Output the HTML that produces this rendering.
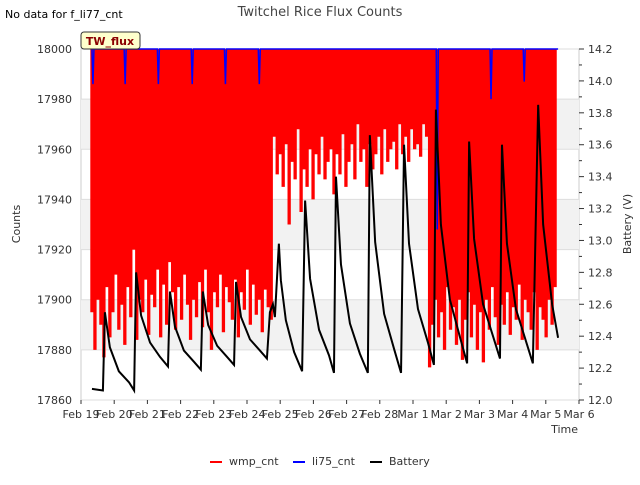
<!DOCTYPE html>
<html><head><meta charset="utf-8"><style>
body{margin:0;background:#fff;font-family:"Liberation Sans","DejaVu Sans",sans-serif}
svg text{font-family:"DejaVu Sans","Liberation Sans",sans-serif}
</style></head><body>
<svg id="c" width="640" height="480" xmlns="http://www.w3.org/2000/svg"></svg>
<script>
const xTicks=["Feb 19","Feb 20","Feb 21","Feb 22","Feb 23","Feb 24","Feb 25","Feb 26","Feb 27","Feb 28","Mar 1","Mar 2","Mar 3","Mar 4","Mar 5","Mar 6"];
const yTicks=[17860,17880,17900,17920,17940,17960,17980,18000];
const y2Ticks=[12.0,12.2,12.4,12.6,12.8,13.0,13.2,13.4,13.6,13.8,14.0,14.2];
const wmpStart=19.33, wmpStep=0.09;
const wmpLows=[17895,17880,17900,17890,17877,17905,17885,17895,17910,17888,17898,17882,17905,17893,17920,17884,17900,17895,17908,17886,17902,17897,17912,17885,17906,17890,17915,17903,17888,17905,17892,17910,17898,17884,17900,17893,17907,17889,17912,17895,17880,17903,17897,17910,17887,17905,17899,17892,17908,17885,17903,17896,17912,17890,17906,17894,17900,17887,17904,17897,17892,
17965,17950,17958,17945,17962,17930,17955,17948,17968,17935,17952,17945,17960,17940,17958,17950,17965,17948,17955,17960,17942,17958,17950,17966,17945,17955,17962,17948,17970,17955,17960,17945,17962,17952,17958,17965,17950,17968,17955,17960,17963,17952,17970,17958,17965,17955,17968,17960,17962,17957,17970,17965,
17873,17890,17900,17885,17895,17880,17905,17888,17897,17882,17900,17876,17892,17903,17885,17898,17880,17895,17875,17900,17888,17905,17893,17882,17898,17890,17903,17886,17897,17892,17906,17884,17900,17895,17888,17903,17880,17897,17892,17885,17900,17890,17905];
const liDipDays=[19.33,20.3,21.3,22.32,23.32,24.34,29.7,31.32,32.32];
const liDipVals=[17986,17986,17986,17986,17986,17986,17928,17980,17987];
const batT=[19.33,19.66,19.72,19.87,20.14,20.45,20.60,20.66,20.81,21.08,21.38,21.62,21.68,21.83,22.10,22.40,22.61,22.67,22.83,23.10,23.40,23.61,23.67,23.82,24.09,24.39,24.60,24.69,24.78,24.84,24.96,25.02,25.17,25.42,25.66,25.75,25.90,26.17,26.47,26.62,26.68,26.83,27.10,27.40,27.64,27.70,27.86,28.13,28.43,28.64,28.73,28.88,29.15,29.45,29.63,29.69,29.84,30.11,30.42,30.63,30.69,30.84,31.11,31.41,31.62,31.68,31.83,32.10,32.40,32.61,32.77,32.92,33.19,33.37];
const batV=[12.07,12.06,12.55,12.33,12.18,12.11,12.06,12.8,12.53,12.36,12.27,12.21,12.68,12.46,12.31,12.24,12.19,12.68,12.47,12.34,12.27,12.22,12.74,12.52,12.38,12.31,12.26,12.55,12.6,12.52,12.98,12.75,12.5,12.3,12.18,13.25,12.76,12.44,12.28,12.17,13.4,12.85,12.48,12.29,12.17,13.66,12.99,12.54,12.32,12.17,13.6,12.98,12.57,12.36,12.22,13.82,13.1,12.63,12.39,12.23,13.62,13.01,12.6,12.4,12.26,13.6,12.98,12.57,12.37,12.23,13.85,13.1,12.6,12.39];

const L=81,R=579,T=49,B=400;
const X=d=>L+(d-19)*(R-L)/15;
const Y=v=>B-(v-17860)*(B-T)/140;
const Y2=v=>B-(v-12)*(B-T)/2.2;
const svg=document.getElementById('c');const NS='http://www.w3.org/2000/svg';
function mk(tag,at,txt){const e=document.createElementNS(NS,tag);for(const k in at)e.setAttribute(k,at[k]);if(txt!==undefined)e.textContent=txt;svg.appendChild(e);return e;}
let e;
e=mk('rect',{x:L,y:T,width:R-L,height:B-T,fill:'#fff',stroke:'#ccc'});


[[17960,17980],[17920,17940],[17880,17900]].forEach(b=>{e=mk('rect',{x:L,y:Y(b[1]),width:R-L,height:Y(b[0])-Y(b[1]),fill:'#f2f2f2'});

});
yTicks.forEach(v=>{mk('line',{x1:L,x2:R,y1:Y(v),y2:Y(v),stroke:'#ddd'});
e=mk('text',{x:72,y:Y(v)+4,'text-anchor':'end','font-size':11,fill:'#333'},v);

});
xTicks.forEach((t,i)=>{mk('line',{x1:X(19+i),x2:X(19+i),y1:B,y2:B+4,stroke:'#333'});
e=mk('text',{x:X(19+i),y:B+18,'text-anchor':'middle','font-size':11,fill:'#333'},t);

});
for(let k=0;k<=22;k++){const v=12+k*0.1;mk('line',{x1:R,x2:R+(k%2?3:5),y1:Y2(v),y2:Y2(v),stroke:'#333'});}
y2Ticks.forEach(v=>{e=mk('text',{x:588,y:Y2(v)+4,'font-size':11,fill:'#333'},v.toFixed(1));

});
// wmp as vertical spikes
let p='';wmpLows.forEach((v,i)=>{const x=X(wmpStart+i*wmpStep);p+=`M${x},${Y(18000)} V${Y(v)} `;});
e=mk('path',{d:p,fill:'none',stroke:'#ff0000','stroke-width':3.3});


// li75
p=`M${X(wmpStart)},${Y(18000)}`;
liDipDays.forEach((d,i)=>{p+=` L${X(d)},${Y(18000)} L${X(d)+1},${Y(liDipVals[i])} L${X(d)+2},${Y(18000)}`;});
p+=` L${X(33.37)},${Y(18000)}`;
e=mk('path',{d:p,fill:'none',stroke:'#0000ff','stroke-width':1.5});


// battery
p='';batT.forEach((t,i)=>{p+=(i?' L':'M')+`${X(t)},${Y2(batV[i])}`;});
e=mk('path',{d:p,fill:'none',stroke:'#000','stroke-width':2});


// labels
e=mk('text',{x:320,y:16,'text-anchor':'middle','font-size':13,fill:'#444'},'Twitchel Rice Flux Counts');


e=mk('text',{x:5,y:18,'font-size':11,fill:'#000'},'No data for f_li77_cnt');


e=mk('rect',{x:81,y:32,width:59,height:17,rx:3,fill:'#ffffcc',stroke:'#333'});


e=mk('text',{x:110,y:45,'text-anchor':'middle','font-size':11,'font-weight':'bold',fill:'#8b0000'},'TW_flux');


e=mk('text',{x:20,y:224,'text-anchor':'middle','font-size':11,fill:'#333',transform:'rotate(-90 20 224)'},'Counts');


e=mk('text',{x:631,y:224,'text-anchor':'middle','font-size':11,fill:'#333',transform:'rotate(-90 631 224)'},'Battery (V)');


e=mk('text',{x:578,y:433,'text-anchor':'end','font-size':11,fill:'#333'},'Time');


[['#ff0000','wmp_cnt',210],['#0000ff','li75_cnt',293],['#000','Battery',370]].forEach(l=>{
e=mk('line',{x1:l[2],x2:l[2]+12,y1:462,y2:462,stroke:l[0],'stroke-width':2});


e=mk('text',{x:l[2]+19,y:465,'font-size':11,fill:'#333'},l[1]);

});
</script>
</body></html>
